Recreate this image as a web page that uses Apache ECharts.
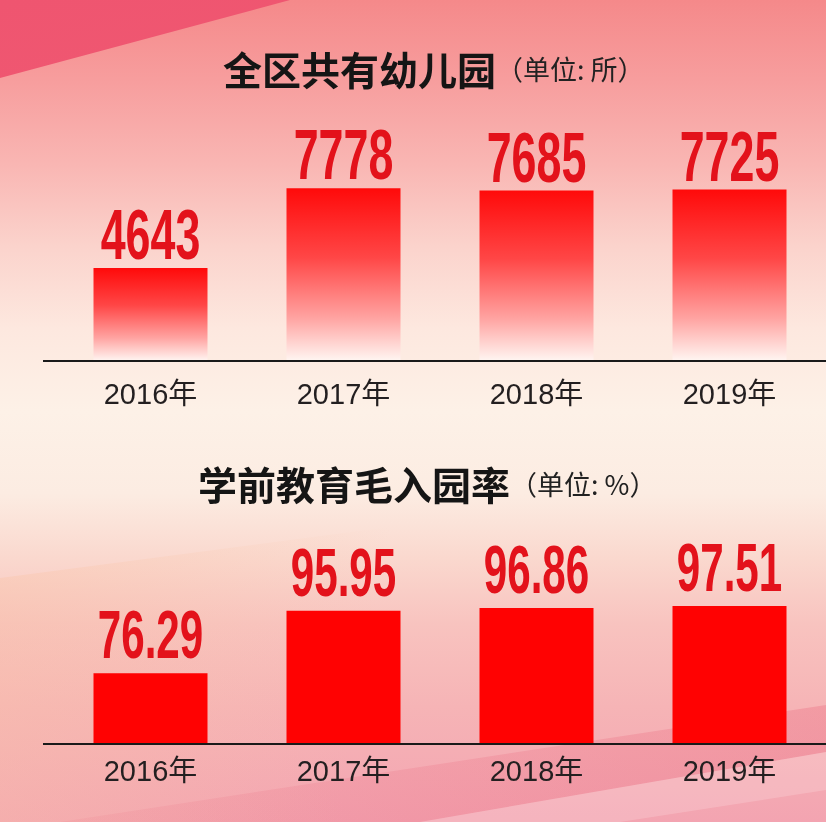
<!DOCTYPE html>
<html>
<head>
<meta charset="utf-8">
<script src="https://cdn.jsdelivr.net/npm/echarts@6/dist/echarts.min.js"></script>
<style>
html,body{margin:0;padding:0;width:826px;height:822px;overflow:hidden;}
#wrap{position:relative;width:826px;height:822px;overflow:hidden;}
.bg{position:absolute;left:0;top:0;width:826px;height:822px;}
#chart{position:absolute;left:0;top:0;width:826px;height:822px;}
</style>
</head>
<body>
<div id="wrap">
  <div class="bg" style="background:linear-gradient(to bottom,#f5898a 0%,#f79e9e 10%,#f9b6b3 20%,#fbd3cc 30%,#fde8df 40%,#fdf1e7 50%,#fcece2 60%,#fad8ce 68%,#f8c3bf 76%,#f6b4b6 86%,#f3a4b1 100%);"></div>
  <div class="bg" style="background:linear-gradient(100deg,rgba(249,196,165,0.45) 0%,rgba(249,196,165,0) 50%);clip-path:polygon(0 578px,826px 470px,826px 822px,0 822px);"></div>
  <div class="bg" style="background:linear-gradient(170deg,#ef5570 0%,#f26679 100%);clip-path:polygon(0 0,290px 0,0 78px);"></div>
  <div class="bg" style="background:linear-gradient(90deg,rgba(232,100,120,0.08),rgba(232,90,115,0.28));clip-path:polygon(60px 822px,826px 705px,826px 752px,420px 822px);"></div>
  <div class="bg" style="background:rgba(255,235,238,0.22);clip-path:polygon(420px 822px,826px 752px,826px 790px,620px 822px);"></div>
  <div id="chart"></div>
</div>
<script>
// ---- data ----
const years = ['2016年', '2017年', '2018年', '2019年'];
const kindergartens = [4643, 7778, 7685, 7725];
const enrollmentRate = [76.29, 95.95, 96.86, 97.51];
const title1 = '全区共有幼儿园';
const unit1 = '（单位: 所）';
const title2 = '学前教育毛入园率';
const unit2 = '（单位: %）';

const chart = echarts.init(document.getElementById('chart'), null, {renderer: 'canvas'});

const titleRich = {
  a: {fontSize: 39, fontWeight: 'bold', fontFamily: '"Noto Sans CJK SC"', color: '#151515', lineHeight: 46},
  b: {fontSize: 27, fontWeight: 'normal', fontFamily: '"Noto Sans CJK SC"', color: '#222222', lineHeight: 46}
};
const catLabel = {
  fontSize: 29,
  fontFamily: '"Liberation Sans","Noto Sans CJK SC",sans-serif',
  color: '#231f20'
};

// condensed value labels drawn through the axis scale (api.coord)
function labelRenderer(fontSize, sx, offset) {
  return function (params, api) {
    const v = api.value(1);
    const pt = api.coord([api.value(0), v]);
    return {
      type: 'text',
      x: pt[0],
      y: pt[1] + offset,
      scaleX: sx,
      style: {
        text: String(v),
        fill: '#e3121b',
        fontSize: fontSize,
        fontWeight: 'bold',
        fontFamily: '"Liberation Sans",sans-serif',
        align: 'center',
        verticalAlign: 'bottom',
        shadowColor: 'rgba(255,255,255,0.35)',
        shadowBlur: 4
      }
    };
  };
}

chart.setOption({
  animation: false,
  backgroundColor: 'transparent',
  title: [
    {text: '{a|' + title1 + '}{b|' + unit1 + '}', left: 218, top: 42, textStyle: {rich: titleRich}},
    {text: '{a|' + title2 + '}{b|' + unit2 + '}', left: 193, top: 457, textStyle: {rich: titleRich}}
  ],
  grid: [
    {left: 54, top: 157, width: 778, height: 204},
    {left: 54, top: 598, width: 778, height: 146}
  ],
  xAxis: [
    {type: 'category', gridIndex: 0, data: years, z: 10,
     axisLine: {onZero: false, lineStyle: {color: '#1a1a1a', width: 2}},
     axisTick: {show: false},
     axisLabel: Object.assign({margin: 20}, catLabel)},
    {type: 'category', gridIndex: 1, data: years, z: 10,
     axisLine: {onZero: false, lineStyle: {color: '#1a1a1a', width: 2}},
     axisTick: {show: false},
     axisLabel: Object.assign({margin: 14}, catLabel)}
  ],
  yAxis: [
    {type: 'value', gridIndex: 0, min: 1000, max: 9000, show: false},
    {type: 'value', gridIndex: 1, min: 54, max: 100, show: false}
  ],
  graphic: [
    {type: 'line', shape: {x1: 43, y1: 361, x2: 55, y2: 361}, style: {stroke: '#1a1a1a', lineWidth: 2}, z: 10},
    {type: 'line', shape: {x1: 43, y1: 744, x2: 55, y2: 744}, style: {stroke: '#1a1a1a', lineWidth: 2}, z: 10}
  ],
  series: [
    {type: 'bar', xAxisIndex: 0, yAxisIndex: 0, data: kindergartens, barWidth: 114,
     itemStyle: {color: {type: 'linear', x: 0, y: 0, x2: 0, y2: 1, colorStops: [
       {offset: 0, color: '#ff0a0a'},
       {offset: 0.4, color: '#ff4646'},
       {offset: 0.75, color: '#ffa3a1'},
       {offset: 1, color: '#fff6f2'}
     ]}}},
    {type: 'bar', xAxisIndex: 1, yAxisIndex: 1, data: enrollmentRate, barWidth: 114,
     itemStyle: {color: '#ff0202'}},
    {type: 'custom', xAxisIndex: 0, yAxisIndex: 0, z: 5,
     data: years.map((y, i) => [y, kindergartens[i]]),
     renderItem: labelRenderer(70, 0.64, 7)},
    {type: 'custom', xAxisIndex: 1, yAxisIndex: 1, z: 5,
     data: years.map((y, i) => [y, enrollmentRate[i]]),
     renderItem: labelRenderer(68, 0.62, 0)}
  ]
});
</script>
</body>
</html>
